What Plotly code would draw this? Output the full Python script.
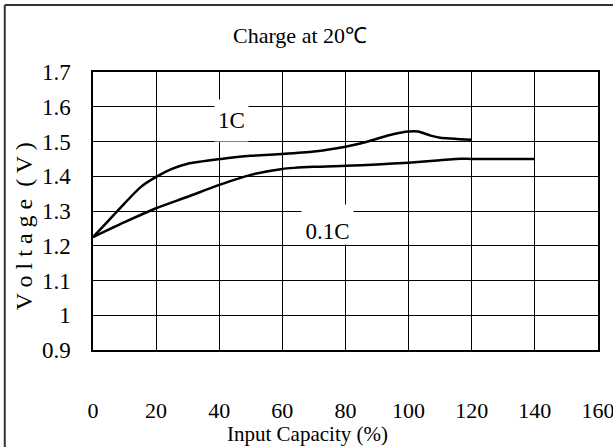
import plotly.graph_objects as go

# Data
cap_1c = [0, 5, 10, 15, 20, 25, 30, 40, 50, 60, 70, 80, 85, 90, 95, 100, 103, 107, 110, 120]
volt_1c = [1.225, 1.273, 1.322, 1.368, 1.398, 1.421, 1.436, 1.449, 1.459, 1.464, 1.471, 1.485, 1.495, 1.508, 1.521, 1.529, 1.529, 1.517, 1.511, 1.505]

cap_01c = [0, 10, 20, 30, 40, 50, 60, 70, 80, 90, 100, 110, 115, 120, 140]
volt_01c = [1.225, 1.268, 1.308, 1.341, 1.375, 1.404, 1.421, 1.427, 1.430, 1.434, 1.439, 1.446, 1.45, 1.45, 1.45]

x_ticks = [0, 20, 40, 60, 80, 100, 120, 140, 160]
y_ticks = [0.9, 1.0, 1.1, 1.2, 1.3, 1.4, 1.5, 1.6, 1.7]
y_tick_text = ["0.9", "1", "1.1", "1.2", "1.3", "1.4", "1.5", "1.6", "1.7"]

FONT = "Liberation Serif"

fig = go.Figure()
fig.add_trace(go.Scatter(x=cap_1c, y=volt_1c, mode="lines",
                         line=dict(color="black", width=2.5, shape="spline", smoothing=0.6),
                         showlegend=False, hoverinfo="skip"))
fig.add_trace(go.Scatter(x=cap_01c, y=volt_01c, mode="lines",
                         line=dict(color="black", width=2.5, shape="spline", smoothing=0.6),
                         showlegend=False, hoverinfo="skip"))

fig.update_layout(
    width=613, height=447,
    margin=dict(l=92.7, r=15.3, t=72, b=97, autoexpand=False),
    paper_bgcolor="white", plot_bgcolor="white",
    font=dict(family=FONT, color="black", size=22),
    xaxis=dict(range=[-0.0001, 160.01], tickvals=x_ticks, ticktext=[str(v) for v in x_ticks],
               showgrid=True, gridcolor="black", gridwidth=1,
               showline=True, linecolor="black", linewidth=1.5, mirror=True,
               zeroline=False, ticks="", ticklabelstandoff=40, ticklabeloverflow="allow",
               tickfont=dict(family=FONT, size=22)),
    yaxis=dict(range=[0.9, 1.7], tickvals=y_ticks, ticktext=y_tick_text,
               showgrid=True, gridcolor="black", gridwidth=1,
               showline=True, linecolor="black", linewidth=1.5, mirror=True,
               zeroline=False, ticks="", ticklabelstandoff=16,
               tickfont=dict(family=FONT, size=23)),
)

annotations = [
    dict(text="Charge at 20℃", xref="paper", yref="paper", x=0.4105, y=1.1295,
         showarrow=False, font=dict(family=FONT, size=22), xanchor="center", yanchor="middle"),
    dict(text="V o l t a g e  ( V )", xref="paper", yref="paper", x=-0.136, y=0.446,
         showarrow=False, textangle=-90, font=dict(family=FONT, size=24),
         xanchor="center", yanchor="middle"),
    dict(text="Input Capacity (%)", xref="paper", yref="paper", x=0.4244, y=-0.302,
         showarrow=False, font=dict(family=FONT, size=21), xanchor="center", yanchor="middle"),
    dict(text="1C", x=43.98, y=1.5604, showarrow=False, bgcolor="white",
         width=33, height=41, borderpad=0, font=dict(family=FONT, size=23)),
    dict(text="0.1C", x=74.4, y=1.2612, showarrow=False, bgcolor="white",
         width=51, height=39, borderpad=0, valign="bottom", font=dict(family=FONT, size=23)),
]
fig.update_layout(annotations=annotations)

fig.add_shape(type="line", xref="paper", yref="paper", x0=-0.1747, x1=-0.1747, y0=1.241, y1=-0.6,
              line=dict(color="#333333", width=2))
fig.add_shape(type="line", xref="paper", yref="paper", x0=-0.1747, x1=1.2, y0=1.241, y1=1.241,
              line=dict(color="#333333", width=2))

fig.write_html("out.html", config={"displayModeBar": False})

# remove default page margin so the figure sits at the window's top-left corner
with open("out.html", "r", encoding="utf-8") as f:
    html = f.read()
html = html.replace("<head>", "<head><style>html,body{margin:0;padding:0;overflow:hidden;}</style>", 1)
with open("out.html", "w", encoding="utf-8") as f:
    f.write(html)
